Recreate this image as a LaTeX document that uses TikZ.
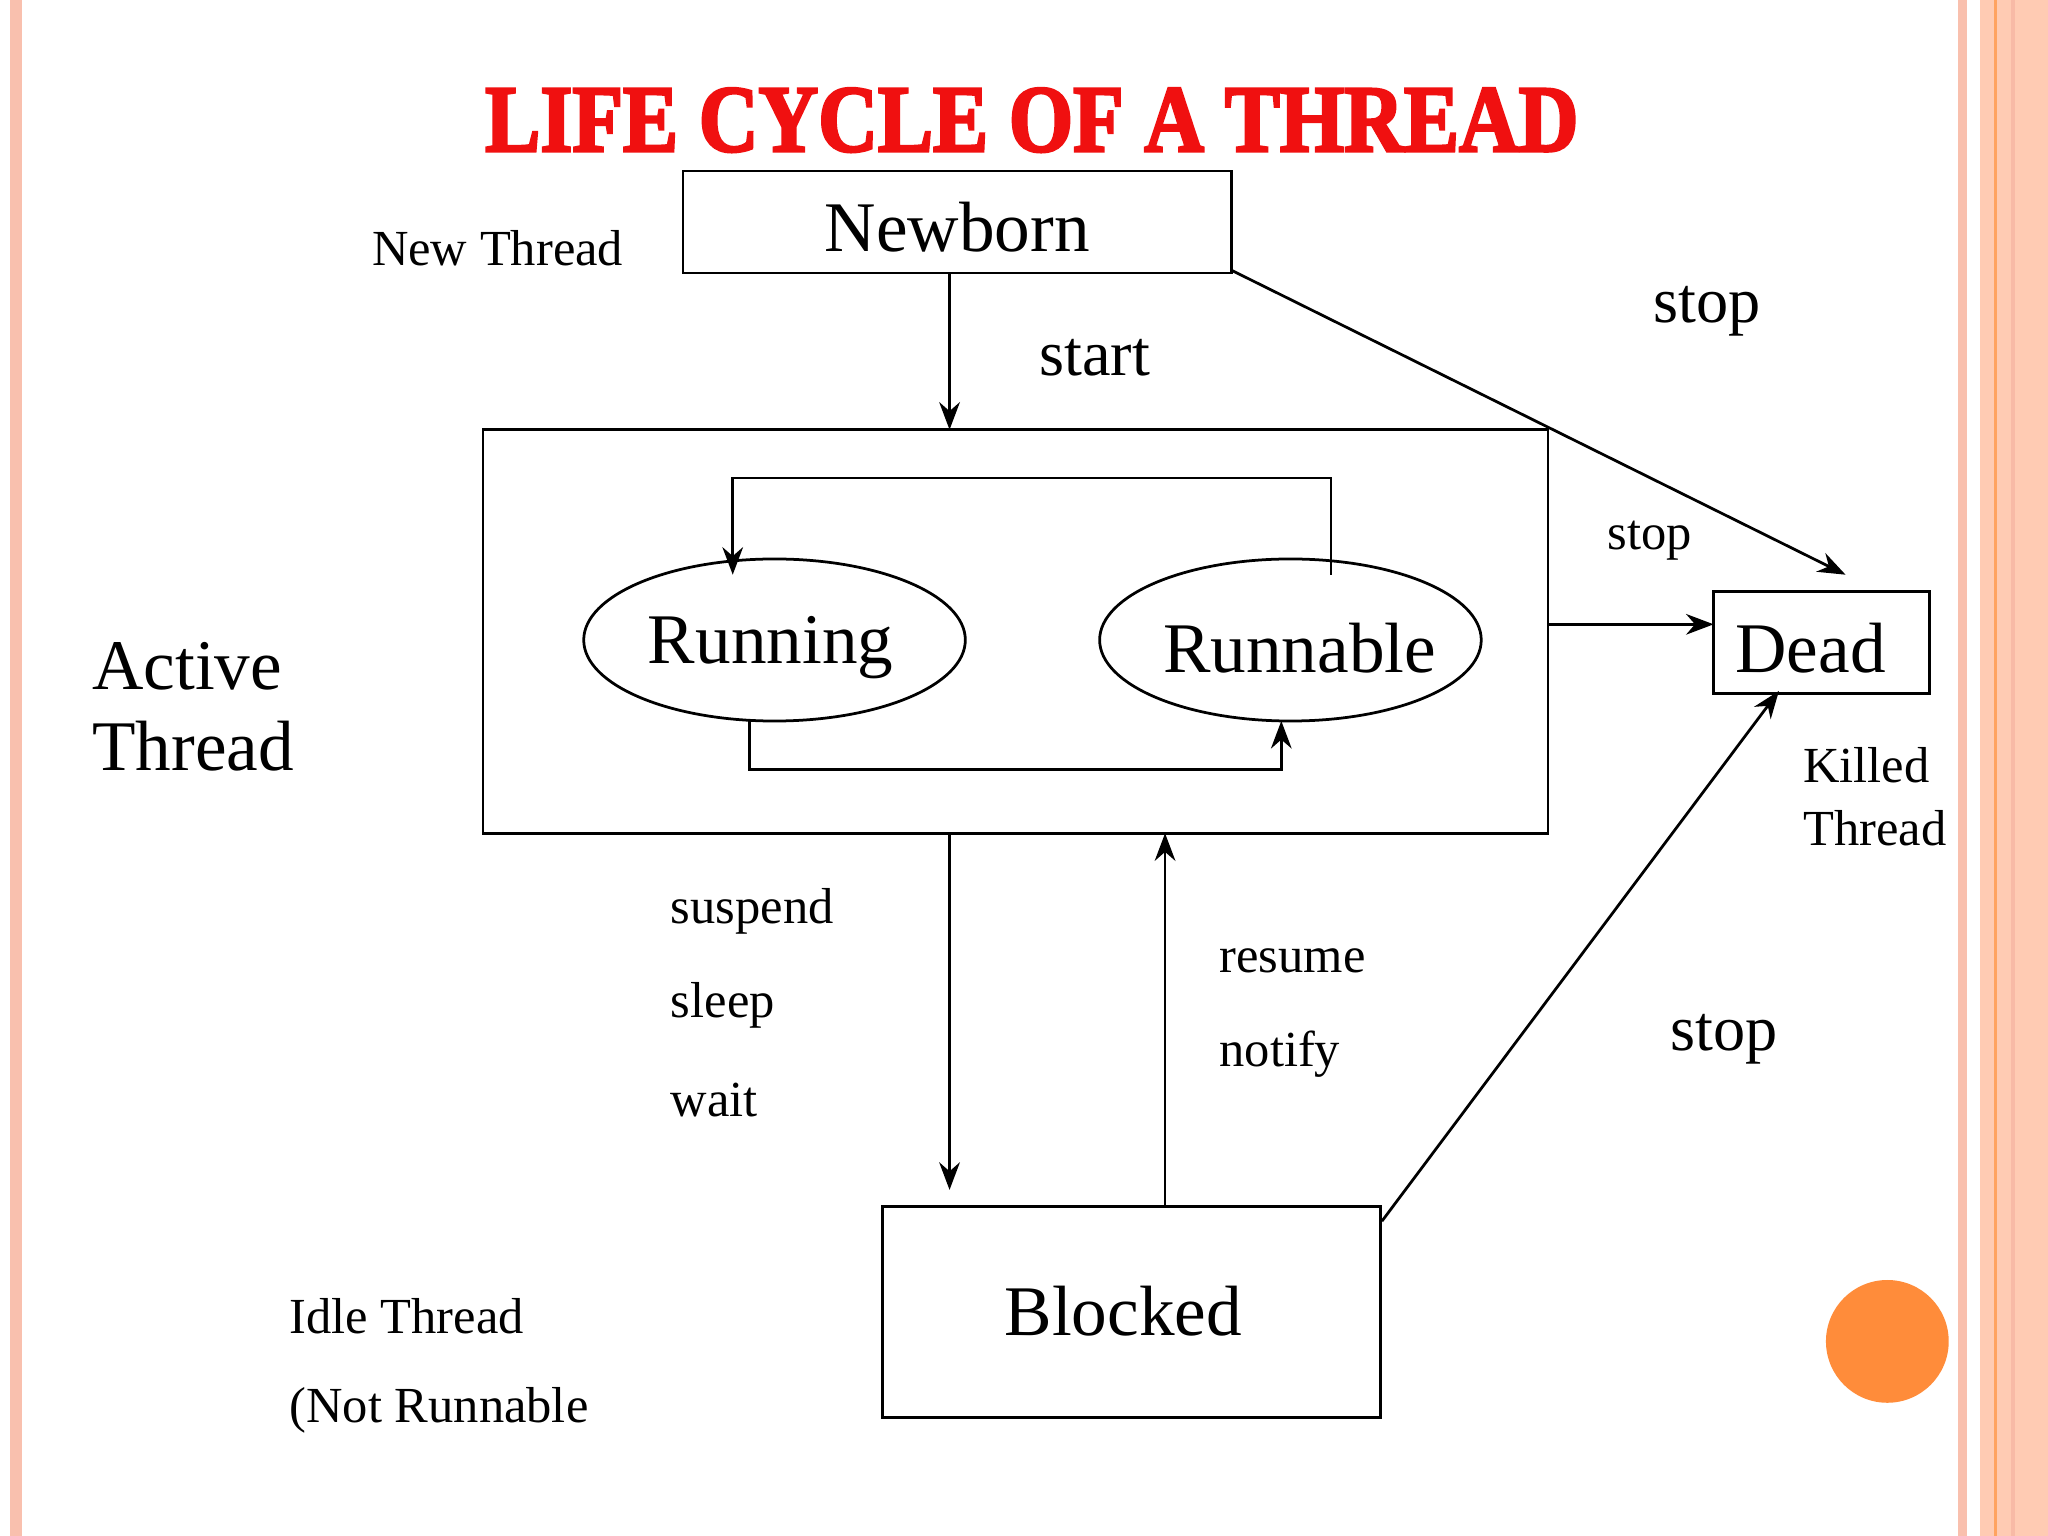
\documentclass[tikz,border=0pt]{standalone}
\usepackage{fontspec}
\setmainfont{Liberation Serif}
\newfontfamily\heavy[FakeBold=3]{Liberation Serif Bold}
\usetikzlibrary{arrows.meta,shapes.geometric}
\definecolor{salmon}{HTML}{F9C0AE}
\definecolor{salmonB}{HTML}{FFCBB3}
\definecolor{orng}{HTML}{FF8C3A}
\definecolor{ttl}{HTML}{F01010}
\begin{document}
\begin{tikzpicture}[x=0.01cm,y=-0.01cm,
  bx/.style={draw,line width=0.6pt,inner sep=0pt},
  el/.style={draw,ellipse,line width=0.6pt,minimum width=2.92cm,minimum height=1.24cm,inner sep=0pt},
  ar/.style={line width=0.6pt,-{Stealth[length=6pt,width=4.5pt]}},
  big/.style={font=\fontsize{15.5pt}{18pt}\selectfont},
  mid/.style={font=\fontsize{14pt}{16pt}\selectfont},
  sml/.style={font=\fontsize{11pt}{13pt}\selectfont}]
\useasboundingbox (0,0) rectangle (1568,1176);
\fill[white] (0,0) rectangle (1568,1176);
\fill[salmon] (8,0) rectangle (17,1176);
\fill[salmon] (1499,0) rectangle (1506,1176);
\fill[salmonB] (1516,0) rectangle (1568,1176);
\fill[orng!80] (1527,0) rectangle (1529,1176);
\fill[salmon!110] (1540,0) rectangle (1543,1176);
\node[text=ttl,font=\fontsize{18pt}{22pt}\heavy,yscale=1.15] (title) at (790,92) {LIFE CYCLE OF A THREAD};
\node[bx,minimum width=4.20cm,minimum height=0.78cm] (nb) at (733,170) {};
\node[big] at (733,174) {Newborn};
\node[bx,minimum width=8.15cm,minimum height=3.09cm] (act) at (777.5,483.5) {};
\node[el] (run) at (593,490) {};
\node[big] at (590,496) {Running};
\node[el] (rnb) at (988,490) {};
\node[big] at (995,496) {Runnable};
\node[bx,minimum width=1.65cm,minimum height=0.78cm] (dead) at (1394.5,492) {};
\node[big,anchor=west,inner sep=0pt] at (1328,496) {Dead};
\node[bx,minimum width=3.81cm,minimum height=1.61cm] (blk) at (866.5,1004.5) {};
\node[big] at (860,1004) {Blocked};
\fill[orng] (1445,1027) circle (47);
\coordinate (a1) at (727,209); \coordinate (a2) at (727,329);
\draw[ar] (a1) -- (a2);
\coordinate (b1) at (943,207); \coordinate (b2) at (1413,440);
\draw[ar] (b1) -- (b2);
\coordinate (c1) at (1185,478); \coordinate (c2) at (1312,478);
\draw[ar] (c1) -- (c2);
\coordinate (d1) at (1019,440); \coordinate (d2) at (561,440);
\draw[ar] (d1) -- (1019,366) -- (561,366) -- (d2);
\coordinate (e1) at (574,552); \coordinate (e2) at (981,552);
\draw[ar] (e1) -- (574,589) -- (981,589) -- (e2);
\coordinate (f1) at (727,638); \coordinate (f2) at (727,911);
\draw[ar] (f1) -- (f2);
\coordinate (g1) at (892,924); \coordinate (g2) at (892,638);
\draw[ar] (g1) -- (g2);
\coordinate (h1) at (1058,935); \coordinate (h2) at (1362,529);
\draw[ar] (h1) -- (h2);
\node[sml] at (381,190) {New Thread};
\node[mid] at (838,274) {start};
\node[mid] at (1307,238) {stop};
\node[sml] at (1263,414) {stop};
\node[big,anchor=west,inner sep=0pt] at (70,510) {Active};
\node[big,anchor=west,inner sep=0pt] at (70,571) {Thread};
\node[sml,anchor=west,inner sep=0pt] at (1380,586) {Killed};
\node[sml,anchor=west,inner sep=0pt] at (1380,634) {Thread};
\node[sml,anchor=west,inner sep=0pt] at (513,698) {suspend};
\node[sml,anchor=west,inner sep=0pt] at (513,770) {sleep};
\node[sml,anchor=west,inner sep=0pt] at (513,842) {wait};
\node[sml,anchor=west,inner sep=0pt] at (933,736) {resume};
\node[sml,anchor=west,inner sep=0pt] at (933,807) {notify};
\node[mid] at (1320,796) {stop};
\node[sml,anchor=west,inner sep=0pt] at (221,1008) {Idle Thread};
\node[sml,anchor=west,inner sep=0pt] at (221,1080) {(Not Runnable};
\end{tikzpicture}
\end{document}
